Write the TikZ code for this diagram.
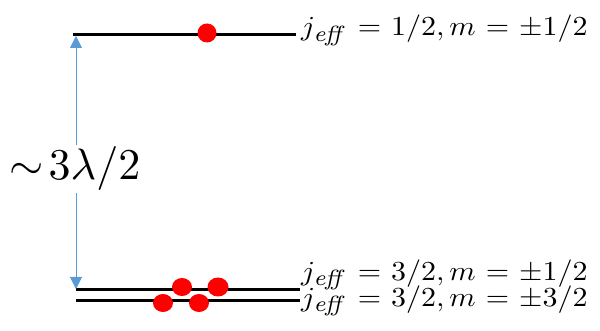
\documentclass[tikz,border=0pt]{standalone}
\usepackage{graphicx}
\usetikzlibrary{arrows.meta}
\definecolor{arrowblue}{HTML}{5B9BD5}
\newcommand{\effsub}{\mbox{\fontsize{8}{9}\selectfont$\mathit{eff}$}}
\newcommand{\lvtxt}[1]{\scalebox{3.0}[2.75]{$\thickmuskip=6mu #1$}}
\newcommand{\gaptxt}[1]{\scalebox{4.4}{$#1$}}
\begin{document}
\begin{tikzpicture}[x=1pt,y=-1pt,
  level/.style={line width=3pt,black},
  electron/.style={fill=red,draw=none},
  lbl/.style={anchor=base west,inner sep=0pt},
  gaplbl/.style={fill=white,inner sep=2pt},
  gaparrow/.style={arrowblue,line width=1pt,{Triangle[width=12pt,length=12pt]}-{Triangle[width=12pt,length=12pt]}}]
\useasboundingbox (0,0) rectangle (600,331);
% levels
\coordinate (t1) at (73,35);
\coordinate (t2) at (296,35);
\coordinate (b1) at (76,290);
\coordinate (b2) at (300,290);
\coordinate (c1) at (76,300);
\coordinate (c2) at (300,300);
\draw[level] (t1) -- (t2);
\draw[level] (b1) -- (b2);
\draw[level] (c1) -- (c2);
% electrons
\fill[electron] (207,33) circle[radius=9.5];
\fill[electron] (182,287) ellipse[x radius=10,y radius=9];
\fill[electron] (218,287) ellipse[x radius=10.5,y radius=9.5];
\fill[electron] (163,303) ellipse[x radius=10,y radius=9];
\fill[electron] (199,303) ellipse[x radius=10,y radius=9];
% arrow
\coordinate (atop) at (76,36);
\coordinate (abot) at (76,289);
\draw[gaparrow] (atop) -- (abot);
\node[gaplbl] (gap) at (75,169) {\gaptxt{\sim\!3\lambda/2}};
% labels
\node[lbl] (l1) at (301,36) {\lvtxt{j_{\effsub}=1/2,m=\pm1/2}};
\node[lbl,text depth=0pt] (l2) at (301,280) {\lvtxt{j_{\effsub}=3/2,m=\pm1/2}};
\node[lbl,text height=14pt] (l3) at (301,306) {\lvtxt{j_{\effsub}=3/2,m=\pm3/2}};
\end{tikzpicture}
\end{document}
